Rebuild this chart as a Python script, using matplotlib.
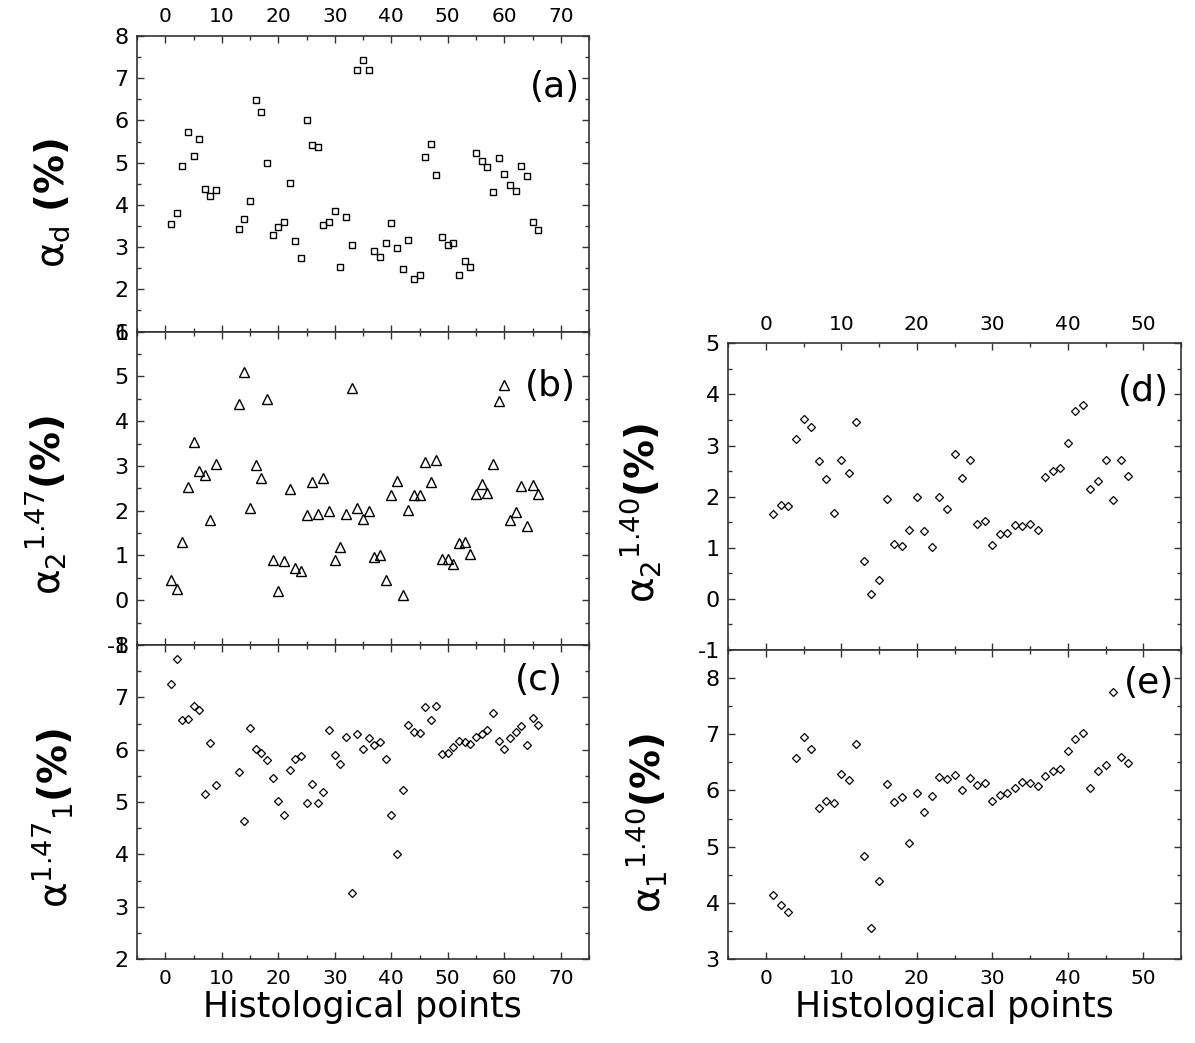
import matplotlib
matplotlib.use("Agg")
import matplotlib.pyplot as plt
from matplotlib.ticker import MultipleLocator, FixedLocator

plt.rcParams['font.family'] = ['DejaVu Sans']
plt.rcParams['mathtext.fontset'] = 'dejavusans'

# ---------------- data ----------------
x_left = [1, 2, 3, 4, 5, 6, 7, 8, 9] + list(range(13, 67))

alpha_d = [3.55, 3.82, 4.92, 5.73, 5.17, 5.57, 4.38, 4.22, 4.36,
           3.43, 3.66, 4.09, 6.48, 6.21, 5.00, 3.29, 3.47, 3.60, 4.52,
           3.15, 2.75, 6.00, 5.42, 5.38, 3.52, 3.60, 3.85, 2.52, 3.72,
           3.06, 7.19, 7.43, 7.19, 2.90, 2.77, 3.10, 3.58, 2.98, 2.48,
           3.17, 2.25, 2.33, 5.14, 5.45, 4.70, 3.23, 3.04, 3.10, 2.33,
           2.67, 2.52, 5.22, 5.03, 4.90, 4.30, 5.11, 4.73, 4.47, 4.33,
           4.92, 4.68, 3.60, 3.41]

alpha2_147 = [0.45, 0.26, 1.31, 2.54, 3.53, 2.88, 2.79, 1.80, 3.04,
              4.38, 5.09, 2.07, 3.01, 2.74, 4.50, 0.89, 0.21, 0.87, 2.49,
              0.72, 0.66, 1.90, 2.63, 1.93, 2.74, 2.00, 0.89, 1.19, 1.93,
              4.74, 2.07, 1.82, 1.99, 0.96, 1.01, 0.45, 2.36, 2.66, 0.11,
              2.02, 2.34, 2.34, 3.09, 2.63, 3.13, 0.92, 0.92, 0.81, 1.28,
              1.31, 1.04, 2.38, 2.59, 2.40, 3.04, 4.46, 4.81, 1.79, 1.98,
              2.56, 1.66, 2.58, 2.38]

alpha1_147 = [7.26, 7.73, 6.57, 6.59, 6.83, 6.75, 5.15, 6.12, 5.32,
              5.58, 4.63, 6.42, 6.01, 5.94, 5.80, 5.45, 5.02, 4.76, 5.62,
              5.82, 5.88, 4.99, 5.34, 4.99, 5.19, 6.38, 5.90, 5.73, 6.25,
              3.27, 6.29, 6.01, 6.23, 6.09, 6.14, 5.82, 4.76, 4.01, 5.23,
              6.48, 6.34, 6.31, 6.81, 6.57, 6.83, 5.92, 5.94, 6.06, 6.17,
              6.14, 6.10, 6.25, 6.29, 6.38, 6.70, 6.16, 6.01, 6.22, 6.34,
              6.46, 6.08, 6.61, 6.48]

x_right = list(range(1, 49))

alpha2_140 = [1.66, 1.83, 1.81, 3.13, 3.51, 3.37, 2.69, 2.34, 1.68, 2.71,
              2.47, 3.46, 0.75, 0.09, 0.36, 1.96, 1.08, 1.03, 1.34, 1.99,
              1.32, 1.01, 1.99, 1.75, 2.84, 2.36, 2.71, 1.47, 1.53, 1.06,
              1.27, 1.28, 1.45, 1.42, 1.47, 1.34, 2.38, 2.51, 2.56, 3.04,
              3.68, 3.79, 2.14, 2.31, 2.71, 1.94, 2.71, 2.40]

alpha1_140 = [4.14, 3.96, 3.84, 6.58, 6.96, 6.74, 5.69, 5.82, 5.77, 6.30,
              6.18, 6.82, 4.83, 3.56, 4.39, 6.12, 5.80, 5.88, 5.07, 5.96,
              5.61, 5.90, 6.24, 6.21, 6.28, 6.00, 6.22, 6.10, 6.14, 5.82,
              5.92, 5.96, 6.04, 6.15, 6.14, 6.08, 6.26, 6.34, 6.38, 6.70,
              6.92, 7.02, 6.04, 6.34, 6.46, 7.75, 6.60, 6.48]

left_xticks = [0, 10, 20, 30, 40, 50, 60, 70]
right_xticks = [0, 10, 20, 30, 40, 50]
xlabel_text = "Histological points"

# ---------------- layout ----------------
W, H = 1195, 1043
fig = plt.figure(figsize=(W / 100, H / 100), dpi=100)


def px_axes(x0, x1, y0, y1):
    return fig.add_axes([x0 / W, 1 - y1 / H, (x1 - x0) / W, (y1 - y0) / H])


LX0, LX1 = 137, 589
RX0, RX1 = 728, 1181
axa = px_axes(LX0, LX1, 36, 331.6)
axb = px_axes(LX0, LX1, 331.6, 645)
axc = px_axes(LX0, LX1, 645, 959)
axd = px_axes(RX0, RX1, 343.3, 650)
axe = px_axes(RX0, RX1, 650, 959)

spine_col = '#333333'


def style(ax, xlim, ylim, yticks, xticks, top_labels=False, bottom_labels=False):
    ax.set_xlim(*xlim)
    ax.set_ylim(*ylim)
    ax.xaxis.set_major_locator(FixedLocator(xticks))
    ax.xaxis.set_minor_locator(MultipleLocator(5))
    ax.yaxis.set_major_locator(FixedLocator(yticks))
    ax.yaxis.set_minor_locator(MultipleLocator(0.5))
    ax.tick_params(which='both', direction='in', top=True, right=True,
                   left=True, bottom=True, color=spine_col, width=1.0)
    ax.tick_params(which='major', length=5)
    ax.tick_params(which='minor', length=3)
    ax.tick_params(axis='y', labelsize=16, pad=6)
    ax.tick_params(axis='x', labelsize=14.5, pad=7,
                   labeltop=top_labels, labelbottom=bottom_labels)
    for s in ax.spines.values():
        s.set_color(spine_col)
        s.set_linewidth(1.2)
    ax.set_yticklabels([('%g' % v) for v in yticks])


style(axa, (-5, 75), (1, 8), [1, 2, 3, 4, 5, 6, 7, 8], left_xticks, top_labels=True)
style(axb, (-5, 75), (-1, 6), [-1, 0, 1, 2, 3, 4, 5, 6], left_xticks)
style(axc, (-5, 75), (2, 8), [2, 3, 4, 5, 6, 7, 8], left_xticks, bottom_labels=True)
style(axd, (-5, 55), (-1, 5), [-1, 0, 1, 2, 3, 4, 5], right_xticks, top_labels=True)
style(axe, (-5, 55), (3, 8.5), [3, 4, 5, 6, 7, 8], right_xticks, bottom_labels=True)

mk = dict(linestyle='none', markerfacecolor='none', markeredgecolor='black', clip_on=False)
axa.plot(x_left, alpha_d, marker='s', markersize=3.8, markeredgewidth=1.0, **mk)
axb.plot(x_left, alpha2_147, marker='^', markersize=6.5, markeredgewidth=1.0, **mk)
axc.plot(x_left, alpha1_147, marker='D', markersize=3.6, markeredgewidth=0.9, **mk)
axd.plot(x_right, alpha2_140, marker='D', markersize=3.8, markeredgewidth=0.9, **mk)
axe.plot(x_right, alpha1_140, marker='D', markersize=3.8, markeredgewidth=0.9, **mk)

# panel letters
for ax, lab, xa, ya in [(axa, '(a)', 0.925, 0.827), (axb, '(b)', 0.914, 0.826),
                        (axc, '(c)', 0.889, 0.889), (axd, '(d)', 0.918, 0.845),
                        (axe, '(e)', 0.929, 0.893)]:
    ax.text(xa, ya, lab, transform=ax.transAxes, fontsize=26,
            ha='center', va='center')

# y labels
ylabs = [
    (r'$\mathrm{\alpha}_{\mathrm{d}}\ \mathbf{(\%)}$', 52, 203),
    (r'$\mathrm{\alpha}_{2}{}^{1.47}\mathbf{(\%)}$', 46, 505),
    (r'$\mathrm{\alpha}^{1.47}{}_{1}\mathbf{(\%)}$', 53, 818),
    (r'$\mathrm{\alpha}_{2}{}^{1.40}\mathbf{(\%)}$', 640, 513),
    (r'$\mathrm{\alpha}_{1}{}^{1.40}\mathbf{(\%)}$', 646, 823),
]
for txt, xp, yp in ylabs:
    fig.text(xp / W, 1 - yp / H, txt, rotation=90, fontsize=28,
             ha='center', va='center')

# x labels
fig.text(362 / W, 1 - 1017 / H, xlabel_text, fontsize=25, ha='center', va='baseline')
fig.text(954 / W, 1 - 1017 / H, xlabel_text, fontsize=25, ha='center', va='baseline')

fig.savefig('out.png', dpi=100)
